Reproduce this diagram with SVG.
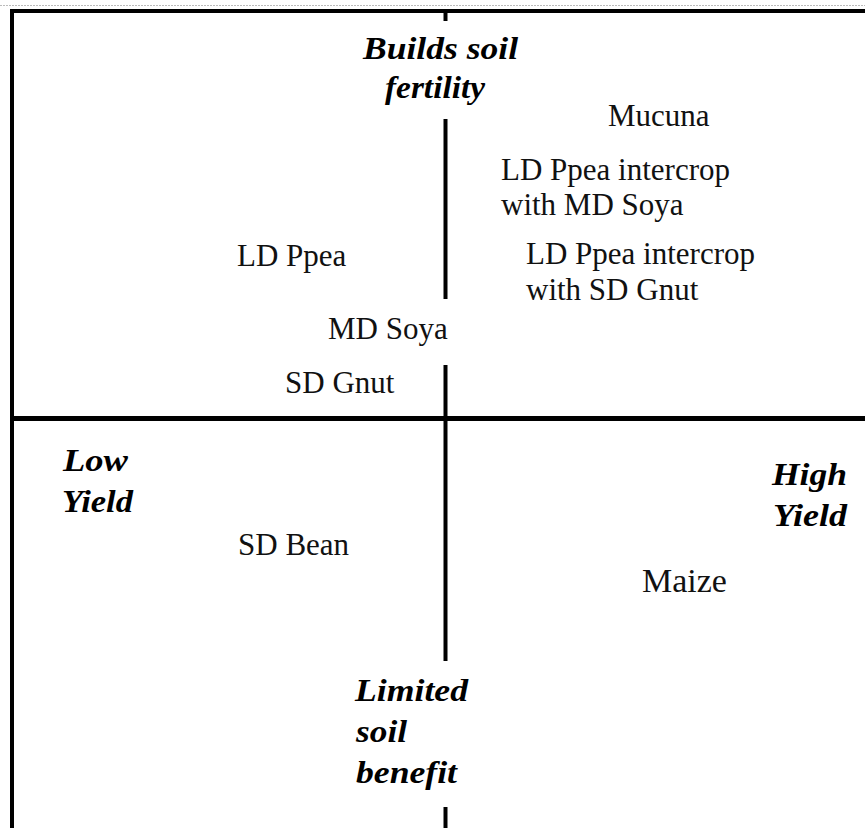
<svg xmlns="http://www.w3.org/2000/svg" width="865" height="828" viewBox="0 0 865 828">
<style>
.ax{stroke:#000;stroke-width:4;fill:none}
.lbl{font-family:"Liberation Serif","Times New Roman",serif;font-size:31px;fill:#111}
.hd{font-family:"Liberation Serif","Times New Roman",serif;font-size:31px;font-weight:bold;font-style:italic;fill:#000}
</style>
<rect x="0" y="0" width="865" height="828" fill="#fff"/>
<g id="axes">
<line x1="0" y1="5.5" x2="865" y2="5.5" stroke="#bbb" stroke-width="1" stroke-dasharray="2 1"/>
<line class="ax" x1="10" y1="11" x2="865" y2="11"/>
<line class="ax" x1="12" y1="9" x2="12" y2="828"/>
<line class="ax" x1="10" y1="418.5" x2="865" y2="418.5" style="stroke-width:5"/>
<line class="ax" x1="445.5" y1="9" x2="445.5" y2="21"/>
<line class="ax" x1="445.5" y1="119" x2="445.5" y2="299"/>
<line class="ax" x1="445.5" y1="365" x2="445.5" y2="661"/>
<line class="ax" x1="445.5" y1="807" x2="445.5" y2="828"/>
</g>
<g id="builds-soil-fertility"><text class="hd" x="363" y="59" textLength="155" lengthAdjust="spacingAndGlyphs">Builds soil</text><text class="hd" x="385" y="98" textLength="100" lengthAdjust="spacingAndGlyphs">fertility</text></g>
<g id="low-yield"><text class="hd" x="63" y="471" textLength="65" lengthAdjust="spacingAndGlyphs">Low</text><text class="hd" x="62" y="512" textLength="71" lengthAdjust="spacingAndGlyphs">Yield</text></g>
<g id="high-yield"><text class="hd" x="772" y="485" textLength="75" lengthAdjust="spacingAndGlyphs">High</text><text class="hd" x="773" y="526" textLength="74" lengthAdjust="spacingAndGlyphs">Yield</text></g>
<g id="limited-soil-benefit"><text class="hd" x="355" y="701" textLength="113" lengthAdjust="spacingAndGlyphs">Limited</text><text class="hd" x="356" y="742" textLength="51" lengthAdjust="spacingAndGlyphs">soil</text><text class="hd" x="356" y="783" textLength="101" lengthAdjust="spacingAndGlyphs">benefit</text></g>
<g id="mucuna"><text class="lbl" x="608" y="126">Mucuna</text></g>
<g id="ldppea-mdsoya"><text class="lbl" x="501" y="180">LD Ppea intercrop</text><text class="lbl" x="501" y="215">with MD Soya</text></g>
<g id="ldppea-sdgnut"><text class="lbl" x="526" y="264">LD Ppea intercrop</text><text class="lbl" x="526" y="300">with SD Gnut</text></g>
<g id="ldppea"><text class="lbl" x="237" y="266">LD Ppea</text></g>
<g id="mdsoya"><text class="lbl" x="328" y="339">MD Soya</text></g>
<g id="sdgnut"><text class="lbl" x="285" y="393">SD Gnut</text></g>
<g id="sdbean"><text class="lbl" x="238" y="555">SD Bean</text></g>
<g id="maize"><text class="lbl" x="642" y="592" style="font-size:34px">Maize</text></g>
</svg>
